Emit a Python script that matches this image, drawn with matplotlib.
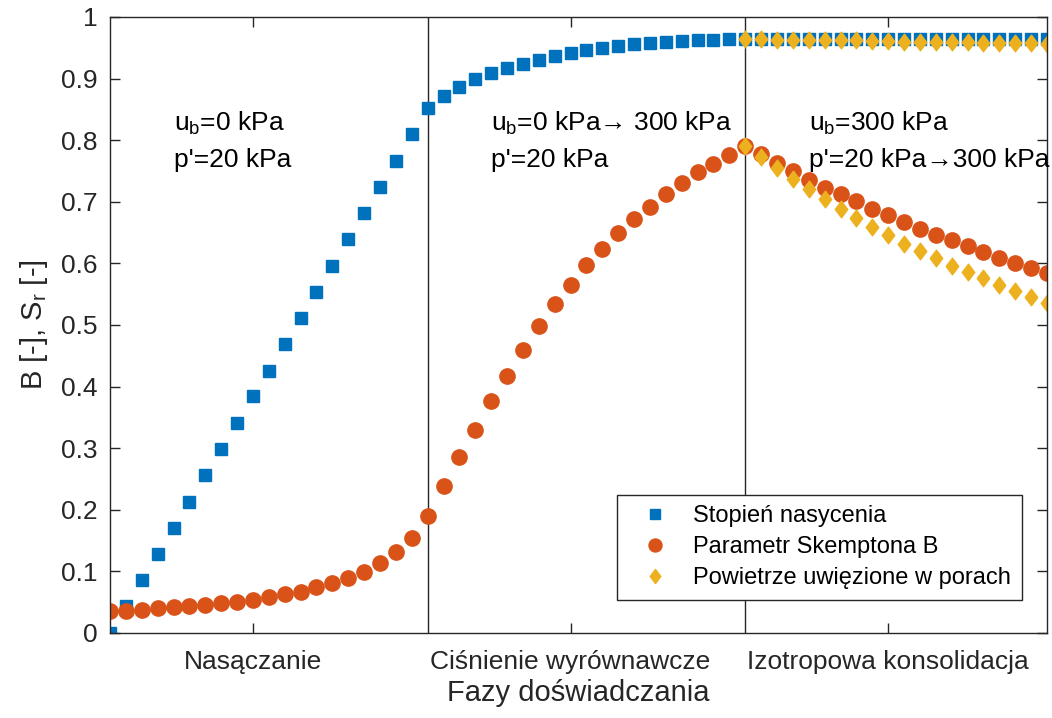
import matplotlib
matplotlib.use("Agg")
import matplotlib.pyplot as plt
from matplotlib.path import Path

plt.rcParams['font.family'] = ['Liberation Sans', 'DejaVu Sans']
plt.rcParams['mathtext.fontset'] = 'custom'
plt.rcParams['mathtext.rm'] = 'Liberation Sans'
plt.rcParams['mathtext.it'] = 'Liberation Sans'

# ---- data ----
x_all = list(range(1, 61))
sr_values = [0.000, 0.044, 0.086, 0.128, 0.171, 0.213, 0.256, 0.298, 0.341, 0.384,
             0.426, 0.469, 0.512, 0.554, 0.596, 0.639, 0.682, 0.724, 0.767, 0.810,
             0.852, 0.872, 0.886, 0.899, 0.909, 0.917, 0.924, 0.931, 0.937, 0.942,
             0.946, 0.950, 0.953, 0.956, 0.958, 0.960, 0.961, 0.963, 0.963, 0.964,
             0.964, 0.964, 0.964, 0.964, 0.964, 0.964, 0.964, 0.964, 0.964, 0.964,
             0.964, 0.964, 0.964, 0.964, 0.964, 0.964, 0.964, 0.964, 0.964, 0.964]
b_values = [0.035, 0.036, 0.038, 0.040, 0.042, 0.044, 0.046, 0.049, 0.051, 0.054,
            0.058, 0.063, 0.067, 0.074, 0.081, 0.089, 0.099, 0.113, 0.131, 0.155,
            0.190, 0.238, 0.285, 0.330, 0.376, 0.418, 0.459, 0.499, 0.534, 0.565,
            0.597, 0.624, 0.649, 0.672, 0.692, 0.712, 0.730, 0.748, 0.762, 0.776,
            0.790, 0.777, 0.763, 0.750, 0.736, 0.723, 0.712, 0.701, 0.689, 0.678,
            0.668, 0.656, 0.646, 0.638, 0.628, 0.619, 0.609, 0.601, 0.593, 0.585]
x_air = list(range(41, 61))
air_sr = [0.964, 0.964, 0.963, 0.963, 0.963, 0.962, 0.962, 0.962, 0.961, 0.961,
          0.960, 0.960, 0.960, 0.959, 0.959, 0.958, 0.958, 0.957, 0.957, 0.956]
air_b = [0.790, 0.773, 0.755, 0.737, 0.720, 0.704, 0.688, 0.673, 0.659, 0.646,
         0.632, 0.620, 0.608, 0.596, 0.586, 0.576, 0.565, 0.555, 0.546, 0.536]
phase_bounds = [21, 41]
phase_ticks = [10, 30, 50]
phase_labels = ['Nasączanie', 'Ciśnienie wyrównawcze', 'Izotropowa konsolidacja']
y_ticks = [0, 0.1, 0.2, 0.3, 0.4, 0.5, 0.6, 0.7, 0.8, 0.9, 1]
y_tick_labels = ['0', '0.1', '0.2', '0.3', '0.4', '0.5', '0.6', '0.7', '0.8', '0.9', '1']
series_names = ['Stopień nasycenia', 'Parametr Skemptona B', 'Powietrze uwięzione w porach']
ann_x = [5, 25, 45]
ann_line1 = ['$\\mathrm{u_b}$=0 kPa', '$\\mathrm{u_b}$=0 kPa\u2192 300 kPa', '$\\mathrm{u_b}$=300 kPa']
ann_line2 = ["p'=20 kPa", "p'=20 kPa", "p'=20 kPa\u2192300 kPa"]

c_blue = '#0072BD'
c_orange = '#D95319'
c_yellow = '#EDB120'
c_axis = '#262626'

diamond = Path([(0, 1), (0.75, 0), (0, -1), (-0.75, 0), (0, 1)],
               [Path.MOVETO, Path.LINETO, Path.LINETO, Path.LINETO, Path.CLOSEPOLY])

fig = plt.figure(figsize=(10.52, 7.18), dpi=100)
ax = fig.add_axes([110/1052, 85/718, 937/1052, 616/718])

ax.plot(x_all, sr_values, ls='none', marker='s', ms=8.2, color=c_blue, mec=c_blue,
        label=series_names[0])
ax.plot(x_all, b_values, ls='none', marker='o', ms=11, color=c_orange, mec=c_orange,
        label=series_names[1])
ax.plot(x_air, air_sr, ls='none', marker=diamond, ms=12, color=c_yellow, mec=c_yellow,
        label=series_names[2])
ax.plot(x_air, air_b, ls='none', marker=diamond, ms=12, color=c_yellow, mec=c_yellow)

for xb in phase_bounds:
    ax.axvline(xb, color=c_axis, lw=1.0, zorder=1)

ax.set_xlim(1, 60)
ax.set_ylim(0, 1)
ax.set_xticks(phase_ticks)
ax.set_xticklabels(phase_labels)
ax.set_yticks(y_ticks)
ax.set_yticklabels(y_tick_labels)
ax.tick_params(direction='in', length=7, width=1, colors=c_axis, labelcolor='#262626',
               top=True, right=True, labelsize=19)
ax.tick_params(axis='x', pad=12)
ax.tick_params(axis='y', pad=9)
for s in ax.spines.values():
    s.set_color(c_axis)
    s.set_linewidth(1.0)

ax.set_xlabel('Fazy doświadczania', fontsize=21, color='#262626')
ax.set_ylabel('B [-], S$_\\mathrm{r}$ [-]', fontsize=21, color='#262626')
ax.xaxis.set_label_coords(0.5, -0.074)
ax.yaxis.set_label_coords(-0.064, 0.5)

for xa, l1, l2 in zip(ann_x, ann_line1, ann_line2):
    ax.text(xa, 0.8153, l1, fontsize=19, va='baseline', ha='left')
    ax.text(xa, 0.757, l2, fontsize=19, va='baseline', ha='left')

leg = ax.legend(loc='lower right', bbox_to_anchor=(0.9733, 0.0536), borderaxespad=0,
                fancybox=False, framealpha=1, edgecolor=c_axis, fontsize=17,
                handlelength=2.3, handletextpad=0.48, borderpad=0.45, labelspacing=0.38,
                markerscale=0.85)
leg.get_frame().set_linewidth(1.0)

fig.savefig('out.png', dpi=100)
